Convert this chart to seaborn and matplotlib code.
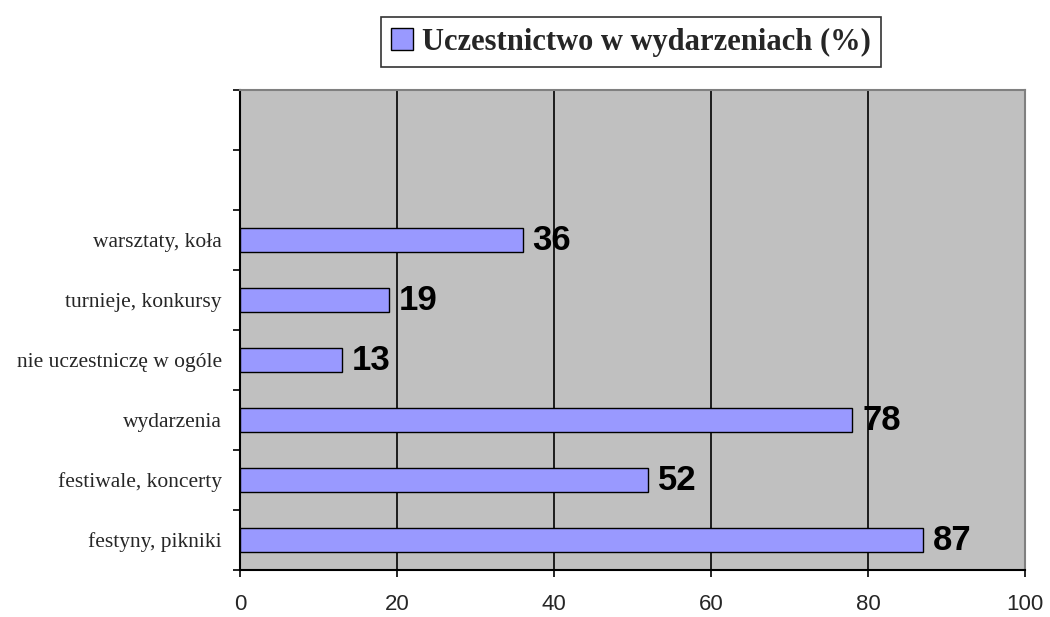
import matplotlib
matplotlib.use("Agg")
import matplotlib.pyplot as plt
import seaborn as sns
import pandas as pd
from matplotlib.patches import Patch
from matplotlib.ticker import FixedLocator

# dane (od góry do dołu)
kategorie = ["warsztaty, koła", "turnieje, konkursy", "nie uczestniczę w ogóle",
             "wydarzenia", "festiwale, koncerty", "festyny, pikniki"]
wartosci = [36, 19, 13, 78, 52, 87]
puste = ["", " "]  # dwa puste miejsca na górze wykresu
seria = "Uczestnictwo w wydarzeniach (%)"
x_ticks = [0, 20, 40, 60, 80, 100]

df = pd.DataFrame({"kategoria": kategorie, "wartosc": wartosci})

sns.set_style("white")
fig = plt.figure(figsize=(10.5, 6.17), dpi=100)
ax = fig.add_axes([240 / 1050, 1 - 570 / 617, 785 / 1050, 480 / 617])
ax.set_facecolor("#C0C0C0")

sns.barplot(data=df, x="wartosc", y="kategoria", order=puste + kategorie,
            orient="h", color="#9999FF", saturation=1, width=0.4,
            edgecolor="black", linewidth=1, ax=ax, zorder=3)

# etykiety wartości
for cont in ax.containers:
    ax.bar_label(cont, padding=7, fontsize=25, fontweight="bold",
                 family=["Liberation Sans", "DejaVu Sans"], color="black")

ax.set_xlim(0, 100)
ax.set_ylim(len(puste + kategorie) - 0.5, -0.5)
ax.set_xticks(x_ticks)
ax.set_xticklabels([str(t) for t in x_ticks], fontsize=16,
                   family=["Liberation Sans", "DejaVu Sans"])
ax.tick_params(axis="x", bottom=True, direction="out", length=5, width=1.2,
               color="black", pad=12)
ax.yaxis.set_minor_locator(FixedLocator([i - 0.5 for i in range(len(puste + kategorie) + 1)]))
ax.tick_params(axis="y", which="major", left=True, length=0, pad=13, labelsize=15.5)
ax.tick_params(axis="y", which="minor", left=True, direction="out", length=5,
               width=1.2, color="black")
for lab in ax.get_yticklabels():
    lab.set_family(["Liberation Serif", "DejaVu Serif"])

ax.xaxis.grid(True, color="black", linewidth=1.2, zorder=1)
ax.set_axisbelow(True)
ax.set_xlabel("")
ax.set_ylabel("")

for s in ["left", "bottom"]:
    ax.spines[s].set_color("black")
    ax.spines[s].set_linewidth(1.5)
for s in ["top", "right"]:
    ax.spines[s].set_color("#808080")
    ax.spines[s].set_linewidth(1.5)

uchwyt = Patch(facecolor="#9999FF", edgecolor="black", linewidth=1)
leg = fig.legend([uchwyt], [seria], loc="center", bbox_to_anchor=(631 / 1050, 1 - 42 / 617),
                 frameon=True, fancybox=False, edgecolor="black", handlelength=0.7,
                 handleheight=0.7, handletextpad=0.3, borderpad=0.35,
                 prop={"family": ["Liberation Serif", "DejaVu Serif"], "weight": "bold", "size": 22})
leg.get_frame().set_linewidth(1.2)

fig.savefig("out.png", dpi=100)
